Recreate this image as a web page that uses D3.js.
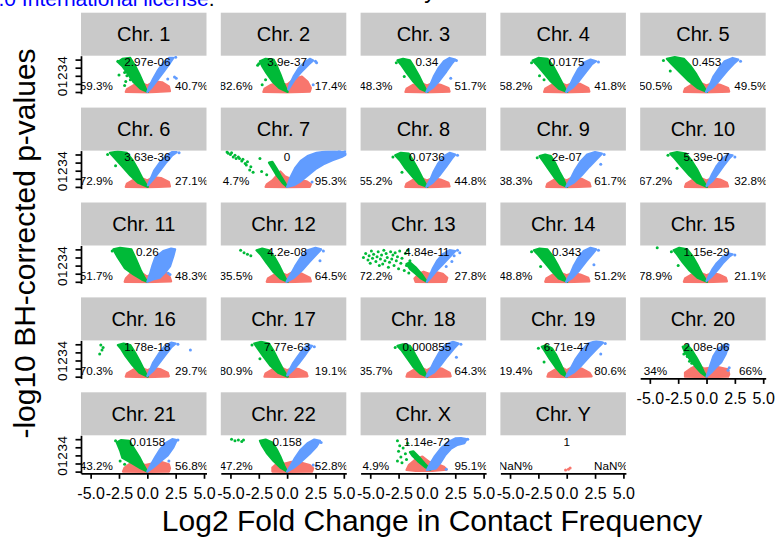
<!DOCTYPE html>
<html><head><meta charset="utf-8">
<script src="https://cdn.jsdelivr.net/npm/d3@7"></script>
<style>body{margin:0;background:#fff}svg{display:block;font-family:"Liberation Sans",Arial,Helvetica,sans-serif}</style>
</head><body><svg id="c" width="775" height="539"></svg>
<script>
const chromosomes=["1","2","3","4","5","6","7","8","9","10","11","12","13","14","15","16","17","18","19","20","21","22","X","Y"];
const pLabels=["2.97e-06","3.9e-37","0.34","0.0175","0.453","3.63e-36","0","0.0736","2e-07","5.39e-07","0.26","4.2e-08","4.84e-11","0.343","1.15e-29","1.78e-18","7.77e-63","0.000855","6.71e-47","2.08e-06","0.0158","0.158","1.14e-72","1"];
const pctDown=["59.3%","82.6%","48.3%","58.2%","50.5%","72.9%","4.7%","55.2%","38.3%","67.2%","51.7%","35.5%","72.2%","48.8%","78.9%","70.3%","80.9%","35.7%","19.4%","34%","43.2%","47.2%","4.9%","NaN%"];
const pctUp=["40.7%","17.4%","51.7%","41.8%","49.5%","27.1%","95.3%","44.8%","61.7%","32.8%","48.3%","64.5%","27.8%","51.2%","21.1%","29.7%","19.1%","64.3%","80.6%","66%","56.8%","52.8%","95.1%","NaN%"];
const xTicks=[-5,-2.5,0,2.5,5];
const yTicks=[0,1,2,3,4];

// outlines of the dense point clouds (log2FC, -log10 p) per chromosome
const greenArms=[
[0.05,0,-0.6,0.4,-1.2,1.2,-1.7,2.2,-2.2,3.2,-2.6,3.7,-2.2,4.1,-1.5,4.2,-1.1,3.3,-0.7,2.2,-0.35,1.1,-0.1,0.3],
[0.05,0,-0.7,0.5,-1.3,1.3,-1.8,2.3,-2.2,3.2,-2.4,3.8,-1.9,4.1,-1.2,4.0,-0.9,3.2,-0.6,2.2,-0.3,1.1,-0.05,0.3],
[0.05,0,-0.6,0.4,-1.2,1.3,-1.8,2.4,-2.3,3.4,-2.6,3.9,-2.1,4.1,-1.5,3.9,-1.1,3.0,-0.7,2.0,-0.35,1.0,-0.1,0.3],
[0.05,0,-0.7,0.4,-1.4,1.3,-2.0,2.3,-2.6,3.3,-3.0,3.9,-2.5,4.2,-1.7,4.1,-1.2,3.2,-0.8,2.2,-0.4,1.1,-0.1,0.3],
[0.05,0,-0.8,0.5,-1.6,1.4,-2.4,2.5,-3.1,3.5,-3.5,4.1,-2.8,4.3,-2.0,4.1,-1.4,3.2,-0.9,2.2,-0.45,1.1,-0.1,0.3],
[0.05,0,-0.8,0.5,-1.5,1.4,-2.2,2.5,-2.9,3.6,-3.3,4.2,-2.6,4.35,-1.8,4.2,-1.3,3.3,-0.85,2.2,-0.45,1.1,-0.1,0.3],
[0,0,-0.4,0.5,-0.9,1.4,-1.3,2.3,-1.6,3.0,-1.3,3.1,-0.9,2.2,-0.5,1.2,-0.15,0.4],
[0.05,0,-0.7,0.4,-1.3,1.3,-1.9,2.3,-2.4,3.3,-2.8,3.9,-2.3,4.2,-1.6,4.1,-1.2,3.2,-0.8,2.2,-0.4,1.1,-0.1,0.3],
[0.05,0,-0.6,0.4,-1.1,1.2,-1.6,2.2,-2.1,3.2,-2.4,3.8,-1.9,4.0,-1.4,3.8,-1.0,2.9,-0.65,1.9,-0.3,1.0,-0.1,0.3],
[0.05,0,-0.8,0.5,-1.5,1.4,-2.2,2.5,-2.8,3.5,-3.2,4.1,-2.6,4.3,-1.8,4.1,-1.3,3.2,-0.85,2.2,-0.45,1.1,-0.1,0.3],
[0,0,-0.5,0.3,-1.2,0.9,-2.0,1.7,-2.6,3.0,-3.0,4.0,-2.4,4.2,-1.4,4.0,-1.0,2.8,-0.6,1.5,-0.25,0.5],
[0.05,0,-0.6,0.4,-1.2,1.2,-1.8,2.3,-2.3,3.3,-2.7,3.9,-2.2,4.1,-1.6,3.9,-1.1,3.0,-0.7,2.0,-0.35,1.0,-0.1,0.3],
[0,0,-0.5,0.4,-1.0,1.0,-1.5,1.6,-1.8,2.2,-1.5,2.4,-1.0,1.8,-0.5,1.0,-0.15,0.3],
[0.05,0,-0.7,0.4,-1.3,1.3,-1.9,2.3,-2.5,3.3,-2.9,3.9,-2.4,4.1,-1.7,4.0,-1.2,3.1,-0.8,2.1,-0.4,1.0,-0.1,0.3],
[0.05,0,-0.8,0.5,-1.5,1.4,-2.1,2.4,-2.6,3.4,-2.9,3.9,-2.4,4.2,-1.7,4.0,-1.2,3.1,-0.8,2.1,-0.4,1.0,-0.1,0.3],
[0.05,0,-0.7,0.5,-1.3,1.4,-1.9,2.5,-2.3,3.4,-2.6,3.9,-2.1,4.1,-1.5,3.9,-1.1,3.0,-0.7,2.0,-0.35,1.0,-0.1,0.3],
[0.05,0,-0.8,0.5,-1.5,1.4,-2.1,2.5,-2.6,3.5,-2.9,4.1,-2.3,4.3,-1.6,4.1,-1.2,3.2,-0.8,2.1,-0.4,1.0,-0.1,0.3],
[0.05,0,-0.6,0.4,-1.2,1.2,-1.7,2.2,-2.2,3.2,-2.6,3.8,-2.1,4.0,-1.5,3.8,-1.1,2.9,-0.7,1.9,-0.35,1.0,-0.1,0.3],
[0,0,-0.5,0.4,-1.0,1.2,-1.5,2.2,-1.9,3.1,-2.2,3.7,-1.8,3.9,-1.3,3.5,-0.9,2.6,-0.55,1.6,-0.25,0.7],
[0,0,-0.5,0.5,-1.0,1.3,-1.5,2.2,-1.9,3.0,-2.1,3.7,-1.7,3.9,-1.3,3.3,-0.9,2.4,-0.55,1.5,-0.25,0.6],
[0,0,-0.6,0.4,-1.3,1.0,-2.2,1.7,-2.4,2.6,-2.7,3.6,-2.3,3.9,-1.6,3.8,-1.2,2.9,-0.7,1.8,-0.3,0.7],
[0,0,-0.6,0.5,-1.2,1.3,-1.8,2.3,-2.2,3.2,-2.4,3.8,-1.9,3.95,-1.3,3.6,-0.9,2.7,-0.55,1.7,-0.25,0.7],
[0.3,0.2,-0.2,0.6,-0.8,1.3,-1.3,2.0,-1.5,2.4,-1.2,2.5,-0.7,1.8,-0.2,1.0,0.2,0.4],
[]
];
const blueArms=[
[0,0,0.4,0.6,0.9,1.5,1.5,2.6,2.0,3.6,2.3,4.2,1.9,4.2,1.4,3.6,0.9,2.6,0.5,1.6,0.15,0.6],
[0.1,0.3,0.6,1.4,1.2,2.4,1.9,3.4,2.3,3.9,2.0,4.1,1.5,3.6,1.0,2.9,0.6,2.0,0.25,1.0],
[-0.05,0,0.5,0.5,1.1,1.4,1.7,2.5,2.2,3.5,2.5,4.0,2.0,4.2,1.5,3.8,1.0,2.9,0.6,1.9,0.3,0.9,0.05,0.3],
[-0.05,0,0.5,0.5,1.1,1.4,1.7,2.5,2.2,3.4,2.6,3.8,2.1,4.0,1.5,3.6,1.0,2.8,0.6,1.8,0.3,0.9,0.05,0.3],
[-0.05,0,0.5,0.5,1.1,1.4,1.8,2.6,2.4,3.5,2.8,4.0,2.3,4.2,1.6,3.8,1.1,2.9,0.6,1.9,0.3,0.9,0.05,0.3],
[0.05,0.2,0.5,0.9,1.0,1.8,1.6,2.9,2.2,3.9,2.6,4.3,2.2,4.3,1.6,3.8,1.1,3.0,0.6,2.0,0.3,1.0],
[0,0,0.3,1.2,0.7,2.3,1.2,3.2,1.8,3.8,2.6,4.2,3.4,4.35,4.2,4.4,5.0,4.3,5.2,4.0,4.8,3.7,4.0,3.3,3.2,2.8,2.5,2.2,1.8,1.4,1.2,0.7,0.6,0.2],
[-0.05,0,0.5,0.5,1.1,1.4,1.7,2.5,2.2,3.5,2.5,4.0,2.0,4.2,1.5,3.8,1.0,2.9,0.6,1.9,0.3,0.9,0.05,0.3],
[-0.05,0,0.6,0.5,1.3,1.4,2.0,2.5,2.7,3.5,3.1,4.1,2.5,4.3,1.8,4.0,1.2,3.1,0.7,2.0,0.35,1.0,0.05,0.3],
[0,0.1,0.5,0.7,1.0,1.6,1.5,2.6,2.0,3.5,2.3,3.9,1.9,4.0,1.4,3.5,0.9,2.6,0.5,1.6,0.2,0.7],
[0,0,0.5,0.3,1.1,0.5,1.6,1.2,2.0,1.9,2.3,3.2,2.45,4.0,2.1,4.1,1.4,3.8,0.7,3.0,0.45,2.0,0.24,1.0],
[-0.05,0,0.6,0.5,1.3,1.4,2.0,2.5,2.6,3.4,3.0,4.0,2.5,4.2,1.8,3.9,1.2,3.0,0.7,1.9,0.35,1.0,0.05,0.3],
[0,0,0.4,0.6,0.8,1.3,1.3,2.0,1.9,2.9,2.5,3.8,2.0,3.9,1.4,3.4,0.9,2.6,0.5,1.6,0.2,0.6],
[-0.05,0,0.5,0.5,1.1,1.4,1.7,2.5,2.3,3.5,2.6,4.0,2.1,4.2,1.5,3.8,1.0,2.9,0.6,1.9,0.3,0.9,0.05,0.3],
[0,0.1,0.5,0.7,1.0,1.5,1.5,2.4,2.0,3.1,2.3,3.4,1.9,3.5,1.4,3.0,0.9,2.3,0.5,1.5,0.2,0.7],
[0,0.1,0.5,0.7,1.0,1.6,1.6,2.7,2.1,3.6,2.5,4.1,2.1,4.2,1.5,3.7,1.0,2.8,0.5,1.7,0.2,0.7],
[0,0.15,0.5,0.8,1.0,1.6,1.5,2.5,1.9,3.3,2.2,3.8,1.8,3.9,1.3,3.2,0.9,2.4,0.5,1.6,0.2,0.8],
[-0.05,0,0.6,0.5,1.2,1.4,1.8,2.5,2.4,3.5,2.8,4.1,2.3,4.3,1.6,3.9,1.1,3.0,0.65,1.9,0.3,0.9,0.05,0.3],
[-0.05,0,0.6,0.5,1.3,1.4,2.0,2.5,2.7,3.5,3.2,4.2,2.6,4.4,1.9,4.1,1.3,3.2,0.75,2.1,0.35,1.0,0.05,0.3],
[0,0,0.4,0.5,0.8,1.1,1.3,1.8,1.7,2.8,1.95,3.9,1.6,4.0,1.0,3.4,0.6,2.5,0.35,1.5,0.15,0.6],
[0,0,0.5,0.5,1.1,1.2,1.8,2.0,2.3,3.0,2.6,3.9,2.2,4.0,1.6,3.5,1.1,2.7,0.7,1.8,0.3,0.8],
[0,0,0.6,0.5,1.3,1.3,2.0,2.2,2.6,3.1,2.9,3.8,2.4,3.95,1.8,3.5,1.2,2.7,0.7,1.7,0.3,0.7],
[0,0.2,0.3,1.0,0.7,1.9,1.2,2.8,1.8,3.6,2.5,4.1,3.0,4.15,3.5,4.0,3.3,3.5,2.7,3.3,2.1,2.8,1.6,2.0,1.2,1.1,0.8,0.4],
[]
];
const redZones=[
[-1.9,0,-1.8,0.35,-1.2,0.85,-0.5,1.1,0,0.8,0.6,1.3,1.3,1.2,1.9,0.7,2.0,0.1,0,-0.05],
[-2.1,0,-2.0,0.4,-1.4,0.9,-0.7,1.2,0,0.9,0.6,1.6,1.3,1.9,1.8,1.3,2.1,0.5,2.0,0.05,0,-0.05],
[-1.9,0,-1.8,0.4,-1.2,0.9,-0.5,1.1,0,0.8,0.5,1.1,1.2,0.9,1.9,0.5,2.0,0.05,0,-0.05],
[-2.0,0,-1.9,0.4,-1.3,0.9,-0.5,1.1,0,0.8,0.5,1.1,1.2,1.0,1.9,0.5,2.0,0.05,0,-0.05],
[-2.0,0,-1.9,0.4,-1.3,0.9,-0.5,1.1,0,0.8,0.5,1.1,1.2,0.9,1.9,0.5,2.0,0.05,0,-0.05],
[-1.9,0,-1.8,0.4,-1.2,0.9,-0.5,1.1,0,0.8,0.5,1.2,1.2,1.1,1.9,0.6,2.0,0.05,0,-0.05],
[-1.9,0,-1.8,0.3,-1.3,0.8,-0.6,1.9,-0.2,1.3,0.3,1.0,1.0,0.9,1.7,0.7,2.1,0.35,2.0,0,0,-0.05],
[-1.9,0,-1.8,0.4,-1.2,0.9,-0.5,1.1,0,0.8,0.5,1.1,1.2,0.9,1.9,0.5,2.0,0.05,0,-0.05],
[-1.8,0,-1.7,0.4,-1.1,0.9,-0.5,1.1,0,0.8,0.5,1.2,1.3,1.0,2.0,0.5,2.1,0.05,0,-0.05],
[-1.9,0,-1.8,0.4,-1.2,0.9,-0.5,1.1,0,0.8,0.5,1.1,1.2,0.9,1.8,0.5,1.9,0.05,0,-0.05],
[-2.0,0,-1.9,0.4,-1.5,1.0,-1.0,1.25,-0.4,1.0,0,0.6,0.4,1.0,1.2,1.2,1.8,1.1,2.0,0.5,2.1,0.05,0,-0.05],
[-1.8,0,-1.7,0.4,-1.1,0.9,-0.5,1.1,0,0.8,0.5,1.2,1.3,1.0,2.0,0.5,2.1,0.05,0,-0.05],
[-1.0,0,-1.1,0.4,-0.7,1.0,-0.3,1.25,0.2,1.0,0.8,1.2,1.4,1.0,1.8,0.5,1.7,0,0,-0.05],
[-1.9,0,-1.8,0.4,-1.2,0.9,-0.5,1.1,0,0.8,0.5,1.1,1.2,0.9,1.9,0.5,2.0,0.05,0,-0.05],
[-2.0,0,-1.9,0.4,-1.3,0.9,-0.5,1.1,0,0.8,0.5,1.1,1.1,0.9,1.7,0.5,1.8,0.05,0,-0.05],
[-1.9,0,-1.8,0.4,-1.2,0.9,-0.5,1.1,0,0.8,0.5,1.1,1.2,0.9,1.8,0.5,1.9,0.05,0,-0.05],
[-2.0,0,-1.9,0.4,-1.3,0.9,-0.5,1.1,0,0.8,0.5,1.1,1.1,0.9,1.7,0.5,1.8,0.05,0,-0.05],
[-1.8,0,-1.7,0.4,-1.1,0.9,-0.5,1.1,0,0.8,0.5,1.2,1.3,1.0,2.0,0.5,2.1,0.05,0,-0.05],
[-1.7,0,-1.6,0.4,-1.0,0.9,-0.4,1.1,0,0.8,0.5,1.2,1.3,1.0,2.0,0.5,2.2,0.05,0,-0.05],
[-1.9,0,-1.9,0.5,-1.4,1.0,-0.8,1.4,-0.2,1.0,0.3,1.1,1.0,1.2,1.9,0.9,2.0,0.3,1.9,0,0,-0.05],
[-2.15,0,-2.0,0.5,-1.5,1.0,-0.8,1.2,-0.2,0.8,0.4,1.0,1.2,1.2,1.9,0.9,2.0,0.4,1.9,0,0,-0.05],
[-1.3,0,-1.3,0.5,-0.8,1.1,-0.2,1.0,0.4,1.2,1.2,1.1,2.0,0.8,2.3,0.4,2.2,0,0,-0.05],
[-1.8,0.2,-1.6,0.8,-1.0,1.5,-0.4,1.85,0.2,1.2,0.8,1.0,1.5,0.6,1.75,0.25,0.5,0.1,-1.0,0.1],
[]
];
// individual scattered points
const greenDots=[
[-2.6,3.8,-2.3,3.9,-2.0,2.4,-2.5,2.1,-1.8,2.0,-1.9,1.3,-1.5,1.5,-2.0,0.8],
[-2.5,3.5,-2.6,3.3,-2.3,3.7,-1.9,1.5,-2.2,0.9],
[-2.7,3.6,-2.0,1.9],
[-3.1,3.6,-2.4,2.0,-2.0,1.5],
[-3.8,3.9,-3.2,2.6],
[-3.5,4.0,-2.8,2.6],
[-5.3,4.3,-5.2,4.15,-5.0,4.0,-4.9,4.2,-4.75,3.7,-4.6,3.9,-4.5,3.5,-4.3,3.7,-4.2,3.5,-4.0,3.2,-3.9,3.4,-3.7,2.9,-3.6,2.7,-3.5,3.1,-3.3,2.1,-3.2,2.5,-3.0,1.8,-2.4,3.5,-2.25,1.9,-1.8,1.5],
[-3.0,3.7,-2.2,1.8],
[-2.6,3.6],
[-3.4,3.9,-2.6,2.3],
[-1.8,1.85,-1.4,1.25,-1.6,1.5,-3.1,3.8],
[-4.1,3.9,-3.8,3.6,-3.5,3.4,-3.2,3.2],
[-5.6,3.0,-5.4,3.5,-5.2,2.7,-5.1,3.2,-4.9,3.8,-4.8,2.9,-4.7,3.4,-4.5,2.5,-4.4,3.1,-4.3,3.7,-4.1,2.8,-4.0,3.3,-3.9,2.2,-3.8,3.9,-3.7,2.6,-3.6,3.5,-3.5,3.0,-3.3,2.4,-3.2,3.7,-3.1,2.8,-3.0,3.3,-2.9,2.0,-2.8,3.6,-2.7,2.6,-2.6,3.1,-2.5,1.6,-2.4,3.8,-2.3,2.3,-2.2,2.9,-2.0,1.4,-1.9,3.5,-1.8,2.0,-1.6,1.1,-1.5,2.6,-1.3,1.5,-5.0,2.3,-4.2,2.0,-3.4,1.8,-1.7,3.9],
[-3.1,3.7,-2.3,1.9],
[-4.35,4.2,-3.1,3.7,-2.5,2.0],
[-4.1,3.9,-4.0,3.3,-4.2,2.8,-3.9,3.6],
[-3.1,3.9,-2.4,2.2],
[-2.8,3.6],
[-2.5,3.5,-2.0,1.8],
[-1.7,2.5,-1.5,1.9,-1.3,1.65,-2.0,2.8],
[-2.8,3.8,-2.4,1.3,-2.0,0.9],
[-4.9,4.0,-4.6,3.8,-4.3,3.9,-4.0,3.7,-3.85,3.9],
[-2.6,3.8,-2.4,3.2,-2.5,2.5,-2.3,1.8,-2.1,2.9,-2.6,1.3,-1.9,2.2,-1.7,3.5,-2.2,1.1,-1.8,1.5],
[]
];
const blueDots=[
[2.4,1.85,2.55,1.7,1.8,1.6,2.5,4.3],
[2.3,0.9,2.5,3.8,2.6,3.6],
[2.6,3.9,2.1,1.7],
[2.8,3.7],
[3.0,3.8],
[2.8,4.2],
[5.3,4.1,5.1,4.4,4.6,4.45,2.2,0.6],
[2.7,3.9],
[3.3,4.0,3.0,2.8],
[2.5,3.7],
[1.85,1.05,2.0,0.9],
[3.2,3.8,2.9,2.6],
[2.7,3.9,2.4,3.2,2.2,2.5,1.7,1.9,2.9,3.6,1.2,2.9],
[2.8,3.9,2.4,2.1],
[2.5,3.3],
[3.8,3.3,2.7,4.0],
[2.4,3.7],
[3.0,4.0,2.6,2.4],
[3.4,4.1,3.0,2.8],
[2.0,1.1,1.9,0.8],
[2.7,3.9,1.9,1.3],
[2.3,0.8,2.6,0.7,3.0,3.6],
[3.6,4.0,1.7,0.3],
[]
];
const redDots=[[],[],[],[],[],[],[],[],[],[],[],[],[],[],[],[],[],[],[],[],[],[],[],[-0.1,0.2,0.15,0.3,0.3,0.45]];

const svg=d3.select("#c");
const colX0=81,colPitch=139.8,panelW=125.5;
const rowY0=12.7,rowPitch=94.9,stripH=43,panelH=38;
const x=d3.scaleLinear().domain([-5.85,5.22]).range([0,panelW]);
const y=d3.scaleLinear().domain([-0.21,4.48]).range([panelH,0]);
const colors={red:"#F8766D",green:"#00BA38",blue:"#619CFF"};
const pairs=a=>d3.range(0,a.length,2).map(i=>[a[i],a[i+1]]);
const outline=d3.line().x(d=>x(d[0])).y(d=>y(d[1])).curve(d3.curveLinearClosed);
const defs=svg.append("defs");

// remnants of the page text above the figure
svg.append("text").attr("x",214.5).attr("y",5.5).attr("text-anchor","end").attr("font-size",21)
  .call(t=>{t.append("tspan").attr("fill","#0000ff").text("4.0 International license");t.append("tspan").attr("fill","#000").text(".");});
svg.append("text").attr("x",430).attr("y",-2).attr("text-anchor","middle").attr("font-size",23).text("y");

chromosomes.forEach((c,i)=>{
  const r=Math.floor(i/5),k=i%5;
  const px=colX0+k*colPitch,sy=rowY0+r*rowPitch,py=sy+stripH;
  const s=svg.append("g").attr("transform",`translate(${px},${sy})`);
  s.append("rect").attr("width",panelW).attr("height",stripH).attr("fill","#c9c9c9");
  s.append("text").attr("x",panelW/2).attr("y",stripH/2).attr("dy","0.36em").attr("text-anchor","middle").attr("font-size",20).text("Chr. "+c);

  const p=svg.append("g").attr("transform",`translate(${px},${py})`);
  defs.append("clipPath").attr("id","cp"+i).append("rect").attr("width",panelW).attr("height",panelH);
  const inner=p.append("g").attr("clip-path",`url(#cp${i})`);
  [[redZones[i],colors.red],[greenArms[i],colors.green],[blueArms[i],colors.blue]].forEach(([poly,col])=>{
    if(!poly.length) return;
    inner.append("path").attr("d",outline(pairs(poly))).attr("fill",col).attr("stroke",col).attr("stroke-width",2.2).attr("stroke-linejoin","round");
  });
  [[redDots[i],colors.red],[greenDots[i],colors.green],[blueDots[i],colors.blue]].forEach(([pts,col])=>{
    inner.selectAll(null).data(pairs(pts)).join("circle").attr("cx",d=>x(d[0])).attr("cy",d=>y(d[1])).attr("r",1.5).attr("fill",col);
  });
  inner.append("text").attr("x",x(0)).attr("y",y(3.7)).attr("dy","0.36em").attr("text-anchor","middle").attr("font-size",11.7).text(pLabels[i]);
  inner.append("text").attr("x",x(-4.5)).attr("y",y(0.74)).attr("dy","0.36em").attr("text-anchor","middle").attr("font-size",11.7).text(pctDown[i]);
  inner.append("text").attr("x",x(3.9)).attr("y",y(0.74)).attr("dy","0.36em").attr("text-anchor","middle").attr("font-size",11.7).text(pctUp[i]);

  if(k===0){
    const ya=p.append("g").call(d3.axisLeft(y).tickValues(yTicks).tickSize(5.5).tickSizeOuter(0).tickFormat(d=>String(d)));
    ya.selectAll("path,line").attr("stroke","#000").attr("stroke-width",1.7);
    ya.selectAll("text").attr("x",0).attr("y",-14.5).attr("dy",0).attr("transform","rotate(-90)").attr("text-anchor","middle").attr("font-size",13.5).attr("fill","#000").attr("font-family",null);
  }
  const isBottom=(i+5>=chromosomes.length);
  if(isBottom){
    const xa=p.append("g").attr("transform",`translate(0,${panelH})`).call(d3.axisBottom(x).tickValues(xTicks).tickSize(5.5).tickSizeOuter(0).tickFormat(d=>d.toFixed(1)));
    xa.selectAll("path,line").attr("stroke","#000").attr("stroke-width",1.7);
    xa.selectAll("text").attr("y",26).attr("dy",0).attr("font-size",16).attr("fill","#000").attr("font-family",null);
  }
});

svg.append("text").attr("x",432).attr("y",531).attr("text-anchor","middle").attr("font-size",30).text("Log2 Fold Change in Contact Frequency");
svg.append("text").attr("transform","translate(35.4,243.5) rotate(-90)").attr("text-anchor","middle").attr("font-size",30).text("-log10 BH-corrected p-values");
</script></body></html>
